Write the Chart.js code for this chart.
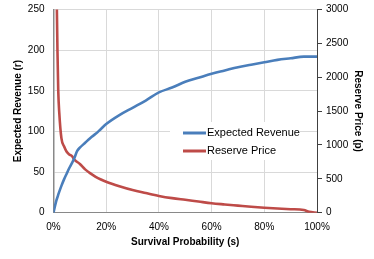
<!DOCTYPE html>
<html>
<head>
<meta charset="utf-8">
<script src="https://cdn.jsdelivr.net/npm/chart.js@4"></script>
<style>
  html, body { margin: 0; padding: 0; background: #fff; }
  #wrap { width: 374px; height: 259px; }
</style>
</head>
<body>
<div id="wrap"><canvas id="chart"></canvas></div>
<script>
// Survival probability (%) vs expected revenue / reserve price

const revenueS = [0, 1, 1.5, 2, 3, 4, 5, 6, 7, 8, 9, 10, 12, 14, 16, 18, 20, 25, 30, 35, 40, 45, 50, 55, 60, 65, 70, 75, 80, 85, 90, 95, 97, 100];
const revenue = [0, 14, 19, 24, 33, 41, 48, 55, 61, 68, 76, 80, 86, 92, 97, 103, 109, 120, 129, 138, 148, 154, 161, 166, 171, 175, 179, 182, 185, 188, 190, 192, 192, 192];

const priceS = [1, 1.5, 1.8, 2.2, 3, 4, 5, 6, 7, 8, 10, 12, 14, 16, 18, 20, 25, 30, 35, 40, 45, 50, 55, 60, 65, 70, 75, 80, 85, 90, 95, 97, 100];
const price = [3800, 2400, 1800, 1470, 1100, 980, 900, 860, 835, 780, 720, 640, 580, 530, 490, 456, 390, 334, 290, 248, 215, 190, 165, 140, 122, 105, 88, 74, 62, 52, 40, 12, 0];

const xTicks = [0, 20, 40, 60, 80, 100];
const seriesNames = ['Expected Revenue', 'Reserve Price'];
const seriesColors = ['#4a7ebb', '#be4b48'];

const FONT = "'Liberation Sans', Arial, sans-serif";
Chart.defaults.font.family = FONT;
Chart.defaults.color = '#000';

// Legend drawn inside the plot, on a white box
const innerLegend = {
  id: 'innerLegend',
  afterDraw(chart) {
    const ctx = chart.ctx;
    ctx.save();
    ctx.fillStyle = '#fff';
    ctx.fillRect(170, 122, 130, 38);
    ctx.font = '11px ' + FONT;
    ctx.textBaseline = 'middle';
    seriesNames.forEach((name, i) => {
      const y = 133 + i * 18;
      ctx.strokeStyle = seriesColors[i];
      ctx.lineWidth = 3;
      ctx.beginPath();
      ctx.moveTo(183, y);
      ctx.lineTo(206, y);
      ctx.stroke();
      ctx.fillStyle = '#000';
      ctx.fillText(name, 207, y);
    });
    ctx.restore();
  }
};

const noPadY = (w) => (scale) => {
  scale.width = w;
  scale.paddingTop = 0;
  scale.paddingBottom = 0;
};

const ctx = document.getElementById('chart').getContext('2d');
new Chart(ctx, {
  type: 'line',
  data: {
    datasets: [
      {
        label: seriesNames[0],
        data: revenueS.map((s, i) => ({ x: s, y: revenue[i] })),
        borderColor: seriesColors[0],
        borderWidth: 2.6,
        pointRadius: 0,
        cubicInterpolationMode: 'monotone',
        yAxisID: 'y'
      },
      {
        label: seriesNames[1],
        data: priceS.map((s, i) => ({ x: s, y: price[i] })),
        borderColor: seriesColors[1],
        borderWidth: 2.6,
        pointRadius: 0,
        cubicInterpolationMode: 'monotone',
        yAxisID: 'y2'
      }
    ]
  },
  options: {
    responsive: true,
    maintainAspectRatio: false,
    animation: false,
    layout: { padding: { top: 9.5, left: 0, right: 0, bottom: 0 } },
    plugins: {
      legend: { display: false },
      tooltip: { enabled: false }
    },
    scales: {
      x: {
        type: 'linear',
        min: 0,
        max: 100,
        afterBuildTicks: (scale) => { scale.ticks = xTicks.map(v => ({ value: v })); },
        afterFit: (scale) => { scale.height = 46.3; scale.paddingLeft = 0; scale.paddingRight = 0; },
        ticks: {
          padding: 9,
          maxRotation: 0,
          font: { size: 10 },
          callback: (v) => v + '%'
        },
        grid: { color: '#d9d9d9', lineWidth: 1, drawTicks: false },
        border: { color: '#898989', width: 1 },
        title: {
          display: true,
          text: 'Survival Probability (s)',
          font: { size: 10, weight: 'bold' },
          padding: { top: 0, bottom: 11 }
        }
      },
      y: {
        position: 'left',
        min: 0,
        max: 250,
        afterFit: noPadY(53.5),
        ticks: { stepSize: 50, padding: 9, font: { size: 10 } },
        grid: { color: '#d9d9d9', lineWidth: 1, drawTicks: false },
        border: { color: '#898989', width: 1.5 },
        title: {
          display: true,
          text: 'Expected Revenue (r)',
          font: { size: 10, weight: 'bold' },
          padding: { top: 12, bottom: 0 }
        }
      },
      y2: {
        position: 'right',
        min: 0,
        max: 3000,
        afterFit: noPadY(57),
        ticks: { stepSize: 500, padding: 4, font: { size: 10 }, callback: (v) => String(v) },
        grid: { drawOnChartArea: false, drawTicks: true, tickLength: 5, color: '#404040' },
        border: { color: '#404040', width: 1 },
        title: {
          display: true,
          text: 'Reserve Price (p)',
          font: { size: 10, weight: 'bold' },
          padding: { top: 10, bottom: 0 }
        }
      }
    }
  },
  plugins: [innerLegend]
});
</script>
</body>
</html>
